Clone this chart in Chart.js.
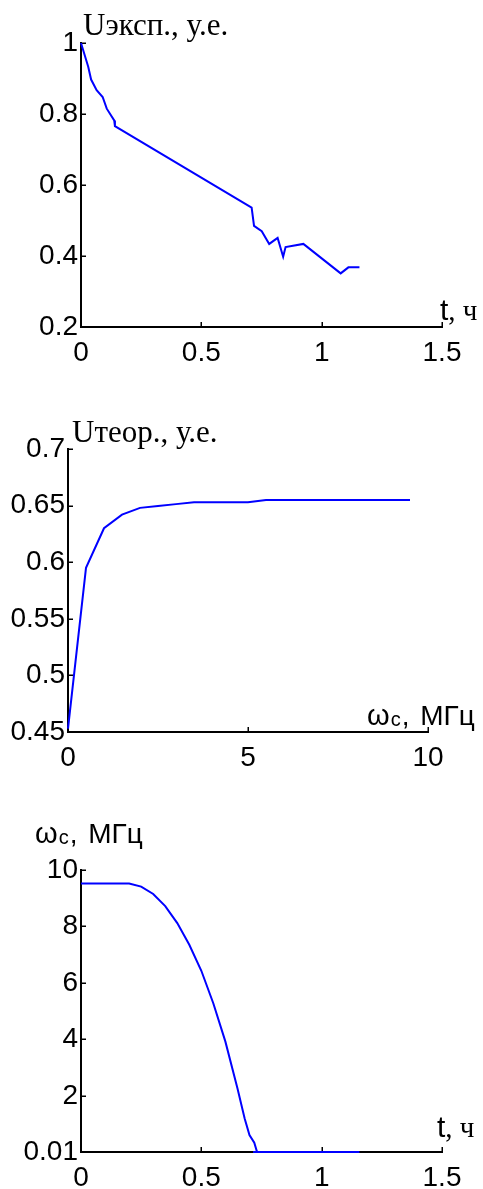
<!DOCTYPE html>
<html><head><meta charset="utf-8">
<script src="https://cdn.jsdelivr.net/npm/chart.js@4/dist/chart.umd.min.js"></script>
<style>
html,body{margin:0;padding:0;background:#fff;}
#wrap{position:relative;width:483px;height:1189px;overflow:hidden;background:#fff;}
canvas{position:absolute;left:0;}
</style></head><body>
<div id="wrap">
<canvas id="c1" width="483" height="390" style="top:0px;width:483px;height:390px"></canvas>
<canvas id="c2" width="483" height="400" style="top:390px;width:483px;height:400px"></canvas>
<canvas id="c3" width="483" height="399" style="top:790px;width:483px;height:399px"></canvas>
</div>
<script>
// ---- Data ----
// Chart 1: experimental U vs time t, h
const expTime = [0, 0.030, 0.042, 0.065, 0.090, 0.107, 0.138, 0.141, 0.709, 0.719, 0.751, 0.782, 0.817, 0.840, 0.850, 0.924, 1.079, 1.111, 1.157];
const expU    = [1.0, 0.933, 0.897, 0.867, 0.848, 0.815, 0.782, 0.766, 0.536, 0.485, 0.470, 0.434, 0.451, 0.398, 0.425, 0.434, 0.351, 0.368, 0.368];

// Chart 2: theoretical U vs omega_c, MHz
const freqMHz = [0, 0.5, 1, 1.5, 2, 2.5, 3, 3.5, 4, 4.5, 5, 5.5, 6, 6.5, 7, 7.5, 8, 8.5, 9, 9.5];
const theorU  = [0.453, 0.595, 0.630, 0.642, 0.648, 0.6497, 0.6513, 0.653, 0.653, 0.653, 0.653, 0.655, 0.655, 0.655, 0.655, 0.655, 0.655, 0.655, 0.655, 0.655];

// Chart 3: omega_c vs time t, h
const timeH    = [0, 0.05, 0.1, 0.15, 0.2, 0.25, 0.3, 0.35, 0.4, 0.45, 0.5, 0.55, 0.6, 0.65, 0.68, 0.7, 0.72, 0.73, 0.733, 0.715, 1.157];
const omegaMHz = [9.52, 9.52, 9.52, 9.52, 9.52, 9.41, 9.15, 8.72, 8.12, 7.35, 6.43, 5.27, 3.92, 2.27, 1.2, 0.61, 0.34, 0.05, 0.01, 0.01, 0.01];

// Tick values and labels
const timeTicks = [0, 0.5, 1, 1.5];
const timeTickLabels = ['0', '0.5', '1', '1.5'];
const expUTicks = [0.2, 0.4, 0.6, 0.8, 1];
const expUTickLabels = ['0.2', '0.4', '0.6', '0.8', '1'];
const freqTicks = [0, 5, 10];
const freqTickLabels = ['0', '5', '10'];
const theorUTicks = [0.45, 0.5, 0.55, 0.6, 0.65, 0.7];
const theorUTickLabels = ['0.45', '0.5', '0.55', '0.6', '0.65', '0.7'];
const omegaTicks = [0.01, 2, 4, 6, 8, 10];
const omegaTickLabels = ['0.01', '2', '4', '6', '8', '10'];

// ---- Helpers ----
const SANS = '"Liberation Sans", Arial, sans-serif';
const SERIF = '"Liberation Serif", "Times New Roman", serif';

function drawSerifTitle(ctx, text, x, y) {
  ctx.font = '31px ' + SERIF;
  ctx.fillText(text, x, y);
}
function drawTimeTitle(ctx, x, y) {
  ctx.font = '30px ' + SANS;
  ctx.fillText('t', x, y);
  const w = ctx.measureText('t').width;
  ctx.font = '29px ' + SERIF;
  ctx.fillText(', ч', x + w, y);
}
function drawOmegaTitle(ctx, x, y) {
  ctx.font = '29px ' + SANS;
  ctx.fillText('ω', x, y);
  let cx = x + ctx.measureText('ω').width + 1;
  ctx.font = '20px ' + SANS;
  ctx.fillText('c', cx, y + 1);
  cx += ctx.measureText('c').width + 1;
  ctx.font = '28px ' + SANS;
  ctx.fillText(',', cx, y);
  cx += ctx.measureText(', ').width + 3;
  ctx.fillText('МГц', cx, y);
}

function makeChart(id, xs, ys, cfg) {
  const pts = xs.map((x, i) => ({x: x, y: ys[i]}));
  const decor = {
    id: 'decor_' + id,
    beforeDatasetsDraw(chart) {
      const ctx = chart.ctx, a = chart.chartArea;
      const sx = chart.scales.x, sy = chart.scales.y;
      ctx.save();
      ctx.strokeStyle = '#000';
      ctx.lineWidth = 1.5;
      ctx.beginPath();
      cfg.xTicks.forEach(v => {
        if (v === cfg.xMin) return;
        const px = Math.round(sx.getPixelForValue(v)) + 0.25;
        ctx.moveTo(px, a.bottom);
        ctx.lineTo(px, a.bottom - 5);
      });
      cfg.yTicks.forEach(v => {
        if (v === cfg.yMin) return;
        const py = Math.round(sy.getPixelForValue(v)) + 0.25;
        ctx.moveTo(a.left, py);
        ctx.lineTo(a.left + 5, py);
      });
      ctx.stroke();
      ctx.restore();
    },
    afterDraw(chart) {
      const ctx = chart.ctx, a = chart.chartArea;
      ctx.save();
      ctx.fillStyle = '#000';
      ctx.textAlign = 'left';
      ctx.textBaseline = 'alphabetic';
      cfg.drawTitles(ctx, a);
      ctx.restore();
    }
  };
  return new Chart(document.getElementById(id), {
    type: 'scatter',
    data: {datasets: [{
      data: pts, showLine: true, borderColor: '#0000ff', borderWidth: 2,
      pointRadius: 0, pointHoverRadius: 0, fill: false, tension: 0, clip: false
    }]},
    options: {
      responsive: false, animation: false, devicePixelRatio: 1, events: [],
      plugins: {legend: {display: false}, tooltip: {enabled: false}},
      layout: {padding: {left: 0, top: cfg.top, right: cfg.rightPad, bottom: 0}},
      scales: {
        x: {
          type: 'linear', min: cfg.xMin, max: cfg.xMax,
          afterBuildTicks: s => { s.ticks = cfg.xTicks.map(v => ({value: v})); },
          afterFit: s => { s.height = cfg.xh; },
          ticks: {font: {size: 28, family: SANS}, color: '#000', padding: 9, maxRotation: 0, autoSkip: false,
                  callback: (v, i) => cfg.xLabels[i]},
          grid: {display: false, drawTicks: false},
          border: {display: true, color: '#000', width: 2}
        },
        y: {
          type: 'linear', min: cfg.yMin, max: cfg.yMax,
          afterBuildTicks: s => { s.ticks = cfg.yTicks.map(v => ({value: v})); },
          afterFit: s => { s.width = cfg.left; },
          ticks: {font: {size: 28, family: SANS}, color: '#000', padding: 3, autoSkip: false,
                  callback: (v, i) => cfg.yLabels[i]},
          grid: {display: false, drawTicks: false},
          border: {display: true, color: '#000', width: 2}
        }
      }
    },
    plugins: [decor]
  });
}

makeChart('c1', expTime, expU, {
  xMin: 0, xMax: 1.5, yMin: 0.2, yMax: 1,
  xTicks: timeTicks, xLabels: timeTickLabels, yTicks: expUTicks, yLabels: expUTickLabels,
  left: 81, top: 43, rightPad: 41, xh: 63,
  drawTitles: (ctx, a) => {
    drawSerifTitle(ctx, 'Uэксп., у.е.', a.left + 2, a.top - 8);
    drawTimeTitle(ctx, a.right - 2, a.bottom - 7);
  }
});

makeChart('c2', freqMHz, theorU, {
  xMin: 0, xMax: 10, yMin: 0.45, yMax: 0.7,
  xTicks: freqTicks, xLabels: freqTickLabels, yTicks: theorUTicks, yLabels: theorUTickLabels,
  left: 68, top: 59, rightPad: 55, xh: 58,
  drawTitles: (ctx, a) => {
    drawSerifTitle(ctx, 'Uтеор., у.е.', a.left + 4, a.top - 7);
    drawOmegaTitle(ctx, a.right - 61, a.bottom - 7);
  }
});

makeChart('c3', timeH, omegaMHz, {
  xMin: 0, xMax: 1.5, yMin: 0.01, yMax: 10,
  xTicks: timeTicks, xLabels: timeTickLabels, yTicks: omegaTicks, yLabels: omegaTickLabels,
  left: 81, top: 80, rightPad: 41, xh: 37,
  drawTitles: (ctx, a) => {
    drawOmegaTitle(ctx, a.left - 46, a.top - 27);
    drawTimeTitle(ctx, a.right - 5, a.bottom - 15);
  }
});
</script>
</body></html>
